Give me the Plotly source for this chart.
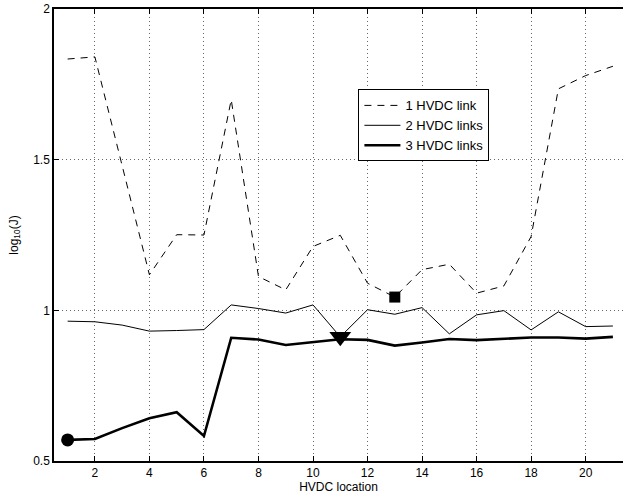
import plotly.graph_objects as go

locations = list(range(1, 22))
one_link = [1.834, 1.841, 1.48, 1.118, 1.251, 1.250, 1.699, 1.112, 1.068, 1.212, 1.249,
            1.090, 1.044, 1.135, 1.153, 1.057, 1.081, 1.245, 1.735, 1.779, 1.810]
two_links = [0.964, 0.962, 0.951, 0.931, 0.933, 0.936, 1.018, 1.006, 0.991, 1.018, 0.912,
             1.002, 0.987, 1.009, 0.922, 0.985, 0.999, 0.935, 0.995, 0.946, 0.948]
three_links = [0.570, 0.573, 0.609, 0.642, 0.662, 0.583, 0.909, 0.903, 0.885, 0.895, 0.904,
               0.902, 0.883, 0.893, 0.905, 0.901, 0.905, 0.910, 0.910, 0.906, 0.912]

# optimum markers (location of each series' marker)
best_one = 13
best_two = 11
best_three = 1

fig = go.Figure()
fig.add_trace(go.Scatter(x=locations, y=one_link, mode="lines", name="1 HVDC link",
                         line=dict(color="black", width=1, dash="7px,6px")))
fig.add_trace(go.Scatter(x=locations, y=two_links, mode="lines", name="2 HVDC links",
                         line=dict(color="black", width=1)))
fig.add_trace(go.Scatter(x=locations, y=three_links, mode="lines", name="3 HVDC links",
                         line=dict(color="black", width=2.6)))

fig.add_trace(go.Scatter(x=[best_one], y=[one_link[best_one - 1]], mode="markers", showlegend=False,
                         marker=dict(symbol="square", size=11, color="black")))
fig.add_trace(go.Scatter(x=[best_two], y=[two_links[best_two - 1]], mode="markers", showlegend=False,
                         marker=dict(symbol="triangle-down", size=19, color="black")))
fig.add_trace(go.Scatter(x=[best_three], y=[three_links[best_three - 1]], mode="markers", showlegend=False,
                         marker=dict(symbol="circle", size=13, color="black")))

font = "Liberation Sans, Arial, Helvetica, sans-serif"
fig.update_layout(
    width=623, height=497,
    margin=dict(l=54, r=0, t=9, b=36),
    paper_bgcolor="white", plot_bgcolor="white",
    font=dict(family=font, size=12, color="black"),
    legend=dict(x=0.535, y=0.822, xanchor="left", yanchor="top",
                bgcolor="white", bordercolor="black", borderwidth=1,
                font=dict(size=13, family=font), itemwidth=36),
    xaxis=dict(range=[0.5, 21.37], tickvals=list(range(2, 21, 2)),
               showline=True, linecolor="black", linewidth=1.5, mirror="ticks",
               ticks="inside", ticklen=5, tickcolor="black",
               showgrid=True, gridcolor="#666", griddash="1px,3px", gridwidth=1,
               zeroline=False, tickfont=dict(size=12),
               title=dict(text="HVDC location", font=dict(size=12), standoff=0)),
    yaxis=dict(range=[0.5, 2], tickvals=[0.5, 1, 1.5, 2], ticktext=["0.5", "1", "1.5", "2"],
               showline=True, linecolor="black", linewidth=1.5,
               ticks="inside", ticklen=5, tickcolor="black",
               showgrid=True, gridcolor="#666", griddash="1px,3px", gridwidth=1,
               zeroline=False, tickfont=dict(size=12),
               title=dict(text="log<sub>10</sub>(J)", font=dict(size=12), standoff=12)),
)

fig.write_html("out.html")
